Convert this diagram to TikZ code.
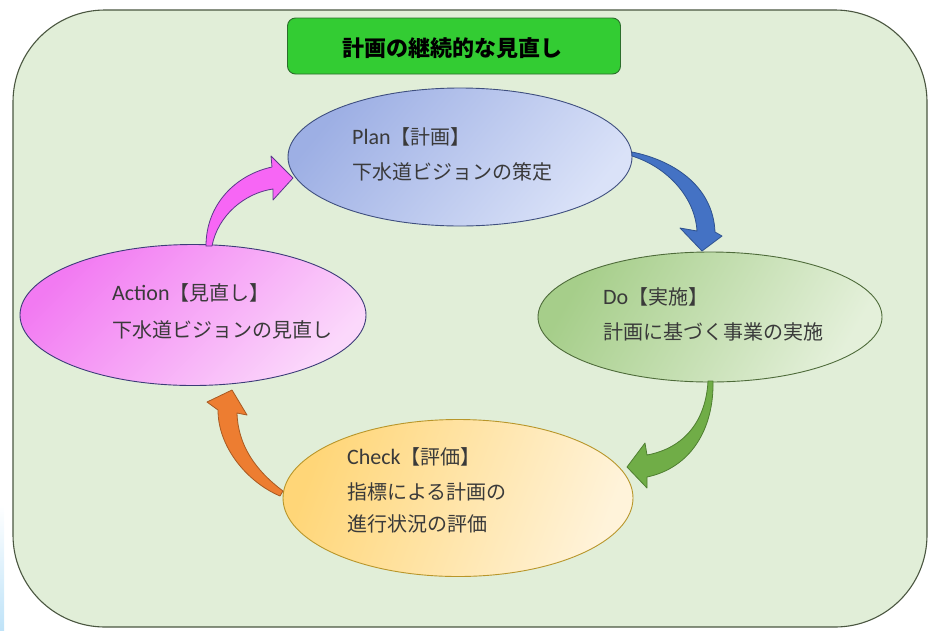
\documentclass[tikz,border=0pt]{standalone}
\usepackage{fontspec}
\setmainfont{Carlito}
\newfontfamily\jp{Noto Sans CJK JP}
\usetikzlibrary{shapes.geometric}
\definecolor{bgfill}{HTML}{E1EED8}
\definecolor{bgline}{HTML}{4A5640}
\definecolor{titlefill}{HTML}{33CC33}
\definecolor{titleline}{HTML}{2C6E2C}
\definecolor{txt}{HTML}{3A3A3A}
\definecolor{planA}{HTML}{9DAFE4}
\definecolor{planB}{HTML}{DAE2F8}
\definecolor{planL}{HTML}{3F4F7F}
\definecolor{doA}{HTML}{A6CE8A}
\definecolor{doB}{HTML}{E4F0DA}
\definecolor{doL}{HTML}{4E6B3A}
\definecolor{chkA}{HTML}{FFD678}
\definecolor{chkB}{HTML}{FFF3DA}
\definecolor{chkL}{HTML}{B8962A}
\definecolor{actA}{HTML}{F27AF2}
\definecolor{actB}{HTML}{FBD8FB}
\definecolor{actL}{HTML}{3C3C78}
\definecolor{arrPink}{HTML}{F766F5}
\definecolor{arrPinkL}{HTML}{5A3A8A}
\definecolor{arrBlue}{HTML}{4472C4}
\definecolor{arrBlueL}{HTML}{2F528F}
\definecolor{arrGreen}{HTML}{70AD47}
\definecolor{arrGreenL}{HTML}{4E7E30}
\definecolor{arrOrange}{HTML}{ED7D31}
\definecolor{arrOrangeL}{HTML}{A85A22}
\definecolor{edgeblue}{HTML}{BFE3F8}
\begin{document}
\begin{tikzpicture}[x=1pt,y=-1pt,
  oval/.style={ellipse, draw, line width=0.9pt, inner sep=0pt},
  lab/.style={anchor=base west, inner sep=0pt, text=txt},
  blockarrow/.style={line width=0.8pt, line join=round}]
\useasboundingbox (0,0) rectangle (931,630);
% screen edge strip
\fill[top color=white, bottom color=edgeblue] (0,505) rectangle (4,630);
% frame
\filldraw[fill=bgfill, draw=bgline, line width=1.1pt, rounded corners=92pt] (13,10) rectangle (927,627);
% title
\node[draw=titleline, fill=titlefill, line width=0.9pt, rounded corners=8pt,
      minimum width=333pt, minimum height=56pt, inner sep=0pt] (titlebox) at (454,46) {};
\node[inner sep=0pt, anchor=base] (title) at (452,56)
  {\jp\bfseries\fontsize{22}{26}\selectfont 計画の継続的な見直し};
% ellipses
\node[oval, draw=planL, top color=planA, bottom color=planB, shading angle=50,
      minimum width=344pt, minimum height=138pt] (plan) at (460,157) {};
\node[oval, draw=doL, top color=doA, bottom color=doB, shading angle=60,
      minimum width=344pt, minimum height=130pt] (do) at (710,317) {};
\node[oval, draw=chkL, top color=chkA, bottom color=chkB, shading angle=70,
      minimum width=350pt, minimum height=157pt] (check) at (458,498) {};
\node[oval, draw=actL, top color=actA, bottom color=actB, shading angle=45,
      minimum width=346pt, minimum height=141pt] (action) at (193,315) {};
% labels
\node[lab] (planT) at (352,144.5) {\fontsize{22}{26}\selectfont Plan{\jp\fontsize{20}{24}\selectfont 【計画】}};
\node[lab] (planS) at (352,179.5) {\jp\fontsize{20}{24}\selectfont 下水道ビジョンの策定};
\node[lab] (doT) at (603,304.5) {\fontsize{22}{26}\selectfont Do{\jp\fontsize{20}{24}\selectfont 【実施】}};
\node[lab] (doS) at (603,339.5) {\jp\fontsize{20}{24}\selectfont 計画に基づく事業の実施};
\node[lab] (chkT) at (347,464.5) {\fontsize{22}{26}\selectfont Check{\jp\fontsize{20}{24}\selectfont 【評価】}};
\node[lab] (chkS1) at (347,499.5) {\jp\fontsize{20}{24}\selectfont 指標による計画の};
\node[lab] (chkS2) at (347,531.5) {\jp\fontsize{20}{24}\selectfont 進行状況の評価};
\node[lab] (actT) at (112,300.5) {\fontsize{22}{26}\selectfont Action{\jp\fontsize{20}{24}\selectfont 【見直し】}};
\node[lab] (actS) at (112,337.5) {\jp\fontsize{20}{24}\selectfont 下水道ビジョンの見直し};
% curved block arrows
\filldraw[blockarrow, fill=arrPink, draw=arrPinkL]
  (206,246) .. controls (206,205) and (235,175) .. (272,167) -- (271,156) -- (293,178)
  -- (273,200) -- (273,189) .. controls (245,193) and (218,215) .. (212,246) -- cycle;
\filldraw[blockarrow, fill=arrBlue, draw=arrBlueL]
  (632,152) .. controls (672,160) and (713,185) .. (715,232) -- (722,236) -- (702,251)
  -- (680,228) -- (697,231) .. controls (695,197) and (667,167) .. (632,156) -- cycle;
\filldraw[blockarrow, fill=arrGreen, draw=arrGreenL]
  (708,381) .. controls (706,420) and (685,448) .. (647,455) -- (645,443) -- (627,467)
  -- (647,488) -- (647,477) .. controls (690,468) and (714,430) .. (713,381) -- cycle;
\filldraw[blockarrow, fill=arrOrange, draw=arrOrangeL]
  (283,491) .. controls (255,470) and (238,445) .. (237,413) -- (247,415) -- (232,390)
  -- (207,402) -- (218,410) .. controls (218,447) and (247,482) .. (280,496) -- cycle;
\end{tikzpicture}
\end{document}
